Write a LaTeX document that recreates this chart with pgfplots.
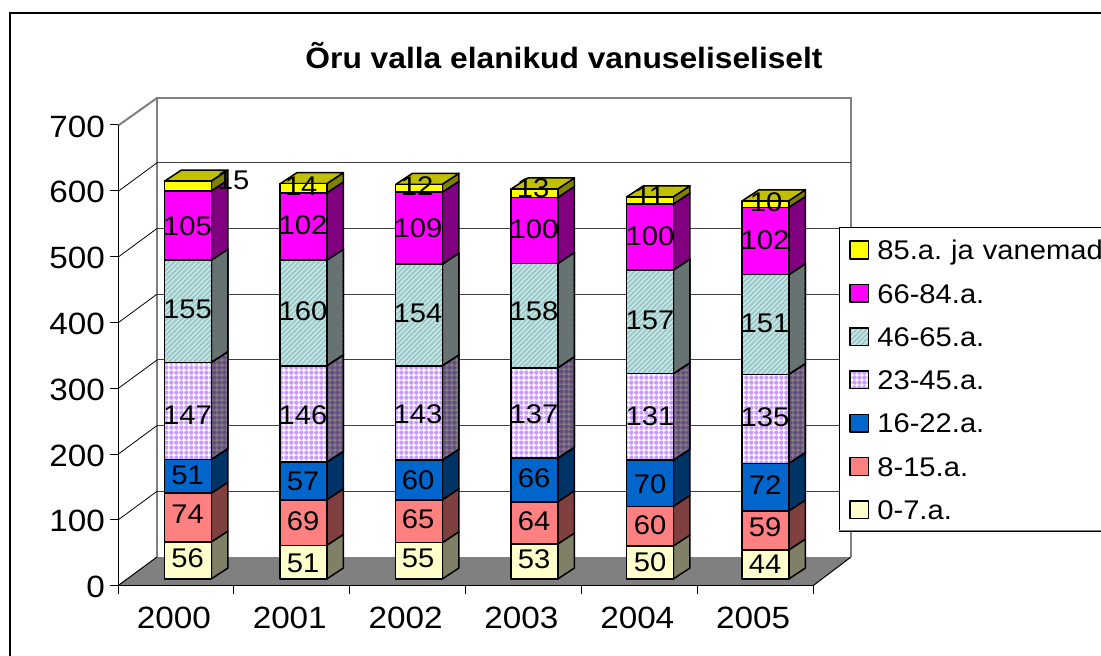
\documentclass[border=0pt]{standalone}
\usepackage{fontspec}
\setmainfont[FakeStretch=1.08]{Liberation Sans}
\usepackage{pgfplots}
\usepackage{pgfplotstable}
\pgfplotsset{compat=1.18}
\usetikzlibrary{patterns}
\pgfdeclarepatternformonly{mystripes}{\pgfqpoint{-1bp}{-1bp}}{\pgfqpoint{6bp}{6bp}}{\pgfqpoint{5bp}{5bp}}{%
  \pgfsetlinewidth{2bp}\pgfpathmoveto{\pgfqpoint{-1bp}{-1bp}}\pgfpathlineto{\pgfqpoint{6bp}{6bp}}\pgfusepath{stroke}}
\pgfdeclarepatternformonly{mydots}{\pgfqpoint{0bp}{0bp}}{\pgfqpoint{5.33bp}{5.33bp}}{\pgfqpoint{5.33bp}{5.33bp}}{%
  \pgfpathcircle{\pgfqpoint{2.66bp}{2.66bp}}{2.45bp}\pgfusepath{fill}}
\definecolor{cY}{HTML}{FFFF00}\definecolor{cYs}{HTML}{808000}\definecolor{cYt}{HTML}{C0C000}
\definecolor{cM}{HTML}{FF00FF}\definecolor{cMs}{HTML}{800080}
\definecolor{cC}{HTML}{BCF2F2}\definecolor{cCp}{HTML}{A8C4C4}\definecolor{cCs}{HTML}{5C7878}\definecolor{cCsp}{HTML}{6E7070}
\definecolor{cP}{HTML}{FFFFFF}\definecolor{cPp}{HTML}{CC99FF}\definecolor{cPs}{HTML}{808080}\definecolor{cPsp}{HTML}{664C80}
\definecolor{cB}{HTML}{0066CC}\definecolor{cBs}{HTML}{003366}
\definecolor{cR}{HTML}{FF8080}\definecolor{cRs}{HTML}{804040}
\definecolor{cL}{HTML}{FFFFCC}\definecolor{cLs}{HTML}{808066}
\tikzset{
  ol/.style={draw=black,line width=1.5bp,line join=round},
  f1/.style={ol,fill=cL}, s1/.style={ol,fill=cLs},
  f2/.style={ol,fill=cR}, s2/.style={ol,fill=cRs},
  f3/.style={ol,fill=cB}, s3/.style={ol,fill=cBs},
  f4/.style={ol,preaction={fill=cP},pattern=mydots,pattern color=cPp},
  s4/.style={ol,preaction={fill=cPs},pattern=mydots,pattern color=cPsp},
  f5/.style={ol,preaction={fill=cC},pattern=mystripes,pattern color=cCp},
  s5/.style={ol,preaction={fill=cCs},pattern=mystripes,pattern color=cCsp},
  f6/.style={ol,fill=cM}, s6/.style={ol,fill=cMs},
  f7/.style={ol,fill=cY}, s7/.style={ol,fill=cYs},
  top/.style={ol,fill=cYt},
  grid line/.style={draw=black!75,line width=1bp},
  wall line/.style={draw=black!50,line width=2bp},
}
\newcommand\sideface[4]{%
  \pgfmathsetmacro\xa{#1+0.2013}\pgfmathsetmacro\xb{#1+0.3459}%
  \pgfmathsetmacro\yla{#2+16.67}\pgfmathsetmacro\yha{#3+16.67}%
  \edef\temp{\noexpand\addplot[#4] coordinates {(\xa,#2)(\xb,\yla)(\xb,\yha)(\xa,#3)(\xa,#2)};}\temp}
\newcommand\topface[2]{%
  \pgfmathsetmacro\xa{#1-0.2013}\pgfmathsetmacro\xb{#1+0.2013}\pgfmathsetmacro\xc{#1+0.3459}\pgfmathsetmacro\xd{#1-0.0567}%
  \pgfmathsetmacro\yh{#2+16.67}%
  \edef\temp{\noexpand\addplot[top] coordinates {(\xa,#2)(\xb,#2)(\xc,\yh)(\xd,\yh)(\xa,#2)};}\temp}
\newcommand\yearfaces[2]{%
  \def\cum{0}\foreachval{#1}#2\relax}
\def\foreachval#1#2,#3,#4,#5,#6,#7,#8\relax{%
  \pgfmathtruncatemacro\ca{#2}\pgfmathtruncatemacro\cb{\ca+#3}\pgfmathtruncatemacro\cc{\cb+#4}%
  \pgfmathtruncatemacro\cd{\cc+#5}\pgfmathtruncatemacro\ce{\cd+#6}\pgfmathtruncatemacro\cf{\ce+#7}\pgfmathtruncatemacro\cg{\cf+#8}%
  \sideface{#1}{0}{\ca}{s1}\sideface{#1}{\ca}{\cb}{s2}\sideface{#1}{\cb}{\cc}{s3}\sideface{#1}{\cc}{\cd}{s4}%
  \sideface{#1}{\cd}{\ce}{s5}\sideface{#1}{\ce}{\cf}{s6}\sideface{#1}{\cf}{\cg}{s7}\topface{#1}{\cg}}
\pgfplotstableread{
x a b c d e f g
0 56 74 51 147 155 105 15
1 51 69 57 146 160 102 14
2 55 65 60 143 154 109 12
3 53 64 66 137 158 100 13
4 50 60 70 131 157 100 11
5 44 59 72 135 151 102 10
}\bars
\newcommand\fs[1]{\frenchspacing\fontsize{#1bp}{#1bp}\selectfont}
\pgfplotsset{
  pix/.style={at={(0bp,0bp)},anchor=south west,width=1101bp,height=656bp,scale only axis,
    xmin=0,xmax=1101,ymin=0,ymax=656,y dir=reverse,hide axis,clip=false},
  baraxis/.style={at={(130.25bp,77bp)},anchor=south west,width=693bp,height=462bp,scale only axis,
    xmin=-0.5,xmax=5.5,ymin=0,ymax=700,hide axis,clip=false},
}
\begin{document}
\begin{tikzpicture}[x=1bp,y=1bp]
\useasboundingbox (0,0) rectangle (1101,656);
\clip (0,0) rectangle (1101,656);
% walls, floor, frame
\begin{axis}[pix]
\addplot[fill=black!50,draw=none] coordinates {(118,585.7)(157,557)(851,557)(813,585.7)(118,585.7)};
\addplot[draw=black,line width=1bp] coordinates {(813,585.7)(851,557)};
\addplot[draw=black,line width=1bp] coordinates {(118,585.7)(157,557)};
\addplot[wall line] coordinates {(157,557)(157,98)(851,98)(851,557)};
\addplot[wall line] coordinates {(118,125.7)(157,98)};
\addplot[grid line] coordinates {(157,491.3)(851,491.3)};
\addplot[grid line] coordinates {(157,425.6)(851,425.6)};
\addplot[grid line] coordinates {(157,360)(851,360)};
\addplot[grid line] coordinates {(157,294.2)(851,294.2)};
\addplot[grid line] coordinates {(157,228.5)(851,228.5)};
\addplot[grid line] coordinates {(157,162.8)(851,162.8)};
\addplot[draw=black,line width=.8bp] coordinates {(118,520)(157,491.3)};
\addplot[draw=black,line width=.8bp] coordinates {(118,454.3)(157,425.6)};
\addplot[draw=black,line width=.8bp] coordinates {(118,388.6)(157,360)};
\addplot[draw=black,line width=.8bp] coordinates {(118,322.9)(157,294.2)};
\addplot[draw=black,line width=.8bp] coordinates {(118,257.2)(157,228.5)};
\addplot[draw=black,line width=.8bp] coordinates {(118,191.5)(157,162.8)};
\addplot[draw=black,line width=2.5bp] coordinates {(10,656)(10,13)(1101,13)};
\node[font=\fs{29.4}\bfseries] at (axis cs:564,56) {Õru valla elanikud vanuseliseliselt};
\end{axis}
% value and category axes
\begin{axis}[at={(118bp,70.3bp)},anchor=south west,width=695bp,height=460.7bp,scale only axis,
  xmin=0,xmax=6,ymin=0,ymax=700,axis x line=bottom,axis y line=left,
  axis line style={-,line width=1bp,black},tick style={black,line width=1bp},
  tick align=outside,major tick length=8bp,
  xtick={0,1,2,3,4,5,6},x tick label as interval,
  xticklabels={2000,2001,2002,2003,2004,2005},
  ytick={0,100,200,300,400,500,600,700},
  /pgf/number format/assume math mode=true,
  ticklabel style={font=\fs{30.8}},
  xticklabel style={yshift=-10bp,xshift=-2bp},
  yticklabel style={xshift=-1.5bp,yshift=-1.5bp}]
\addplot[draw=none] coordinates {(0,0)};
\end{axis}
% side and top faces of the bars
\begin{axis}[baraxis]
\yearfaces{0}{56,74,51,147,155,105,15}
\yearfaces{1}{51,69,57,146,160,102,14}
\yearfaces{2}{55,65,60,143,154,109,12}
\yearfaces{3}{53,64,66,137,158,100,13}
\yearfaces{4}{50,60,70,131,157,100,11}
\yearfaces{5}{44,59,72,135,151,102,10}
\end{axis}
% front faces and legend
\begin{axis}[baraxis,ybar stacked,bar width=46.6bp,
  reverse legend,
  legend image code/.code={\draw[#1] (0bp,1bp) rectangle (18.6bp,18.6bp);},
  legend style={at={(1.0232,0.7613)},anchor=north west,draw=black,line width=1bp,fill=white,
    inner xsep=9.4bp,inner ysep=12bp,row sep=23.3bp,
    font=\fs{27},
    nodes={inner sep=0pt,text height=20bp,text depth=0bp,text width=240bp,align=left,anchor=base west},
    /tikz/every odd column/.append style={column sep=8bp}},
  legend cell align=left]
\addplot[f1] table[x=x,y=a]{\bars}; \addlegendentry{0-7.a.}
\addplot[f2] table[x=x,y=b]{\bars}; \addlegendentry{8-15.a.}
\addplot[f3] table[x=x,y=c]{\bars}; \addlegendentry{16-22.a.}
\addplot[f4] table[x=x,y=d]{\bars}; \addlegendentry{23-45.a.}
\addplot[f5] table[x=x,y=e]{\bars}; \addlegendentry{46-65.a.}
\addplot[f6] table[x=x,y=f]{\bars}; \addlegendentry{66-84.a.}
\addplot[f7] table[x=x,y=g]{\bars}; \addlegendentry{85.a. ja vanemad}
\end{axis}
% data labels
\begin{axis}[pix]
\addplot[draw=black!50,line width=1.2bp] coordinates {(839,530.5)(1101,530.5)};
\addplot[draw=none,mark=none,nodes near coords,point meta=explicit symbolic,
  nodes near coords style={anchor=center,inner sep=0pt,font=\fs{27},text=black}]
  table[x=x,y=y,meta=t]{
x y t
187.5 558 56
187.5 514 74
187.5 475 51
187.5 415 147
187.5 309 155
187.5 226 105
233 180 15
303 563 51
303 521 69
303 481 57
303 415 146
303 311 160
303 225 102
301 186 14
418 558 55
418 519 65
418 480 60
418 414 143
418 313 154
418 228 109
417 186 12
534 559 53
534 521 64
534 478 66
534 414 137
534 311 158
534 229 100
533 188 13
650 562 50
650 525 60
650 484 70
650 416 131
650 320 157
650 236 100
650 196 11
765 564 44
765 527 59
765 485 72
765 417 135
765 323 151
765 240 102
766 202 10
};
\end{axis}
\end{tikzpicture}
\end{document}
